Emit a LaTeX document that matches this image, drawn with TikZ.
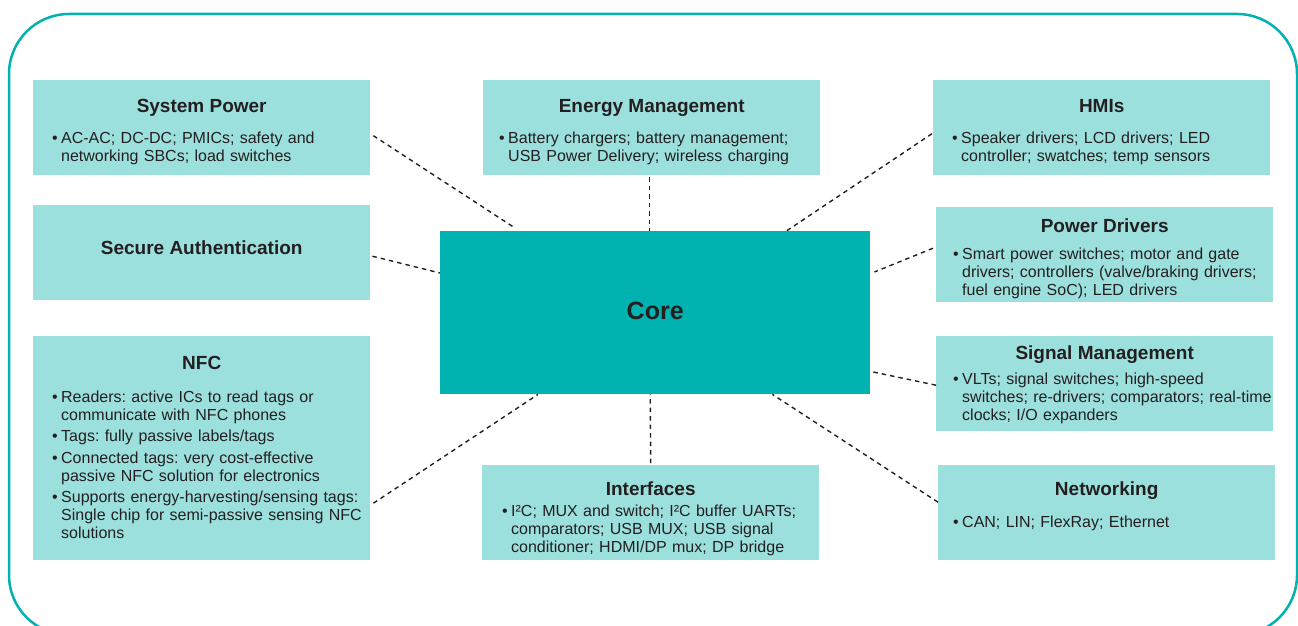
\documentclass[tikz,border=0pt]{standalone}
\usepackage{fontspec}
\setmainfont{Liberation Sans}
\usetikzlibrary{calc}
\definecolor{boxc}{RGB}{156,224,222}
\definecolor{corec}{RGB}{0,178,176}
\definecolor{txt}{RGB}{35,31,32}
\newcommand\bitem[1]{\hangindent=9pt\hangafter=1\noindent\makebox[9pt][l]{\textbullet}#1\par}
\tikzset{
  x=1pt, y=-1pt,
  panel/.style={fill=boxc, draw=none, inner sep=0pt, anchor=north west, minimum width=337pt, minimum height=95pt},
  ttl/.style={anchor=base, inner sep=0pt, font=\fontsize{19}{22}\selectfont\bfseries, text=txt},
  body/.style={anchor=base west, inner sep=0pt, text width=330pt, text=txt,
    font=\fontsize{16}{18}\selectfont\frenchspacing, execute at begin node=\raggedright},
  conn/.style={draw=txt, line width=1.4pt, dash pattern=on 4.5pt off 4pt},
}
\begin{document}
\begin{tikzpicture}
\useasboundingbox (0,0) rectangle (1298,626);
\draw[corec, line width=2.5pt, rounded corners=60pt] (9,14) rectangle (1297,635);

% panels
\node[panel] (sp) at (33,80) {};
\node[panel] (em) at (483,80) {};
\node[panel] (hmi) at (933,80) {};
\node[panel] (sa) at (33,205) {};
\node[panel] (pd) at (936,207) {};
\node[panel] (sm) at (936,336) {};
\node[panel, minimum height=224pt] (nfc) at (33,336) {};
\node[panel] (int) at (482,465) {};
\node[panel] (net) at (938,465) {};
\node[fill=corec, inner sep=0pt, anchor=north west, minimum width=430pt, minimum height=163pt] (core) at (440,231) {};
\node[anchor=base, inner sep=0pt, font=\fontsize{25}{28}\selectfont\bfseries, text=txt]
  (coretxt) at ([yshift=-7pt]core.center) {Core};

% titles
\node[ttl] (spt) at ([yshift=-32pt]sp.north) {System Power};
\node[ttl] (emt) at ([yshift=-32pt]em.north) {Energy Management};
\node[ttl] (hmit) at ([yshift=-32pt]hmi.north) {HMIs};
\node[ttl] (sat) at ([yshift=-49pt]sa.north) {Secure Authentication};
\node[ttl] (pdt) at ([yshift=-25pt]pd.north) {Power Drivers};
\node[ttl] (smt) at ([yshift=-23pt]sm.north) {Signal Management};
\node[ttl] (nfct) at ([yshift=-33pt]nfc.north) {NFC};
\node[ttl] (intt) at ([yshift=-30pt]int.north) {Interfaces};
\node[ttl] (nett) at ([yshift=-30pt]net.north) {Networking};

% bodies
\node[body] (spb) at ([xshift=19pt,yshift=-63pt]sp.north west)
  {\bitem{AC-AC; DC-DC; PMICs; safety and\newline networking SBCs; load switches}};
\node[body] (emb) at ([xshift=16pt,yshift=-63pt]em.north west)
  {\bitem{Battery chargers; battery management;\newline USB Power Delivery; wireless charging}};
\node[body] (hmib) at ([xshift=19pt,yshift=-63pt]hmi.north west)
  {\bitem{Speaker drivers; LCD drivers; LED\newline controller; swatches; temp sensors}};
\node[body] (pdb) at ([xshift=17pt,yshift=-52pt]pd.north west)
  {\bitem{Smart power switches; motor and gate\newline drivers; controllers (valve/braking drivers;\newline fuel engine SoC); LED drivers}};
\node[body] (smb) at ([xshift=17pt,yshift=-48pt]sm.north west)
  {\bitem{VLTs; signal switches; high-speed\newline switches; re-drivers; comparators; real-time\newline clocks; I/O expanders}};
\node[body] (nfcb) at ([xshift=19pt,yshift=-66pt]nfc.north west)
  {\bitem{Readers: active ICs to read tags or\newline communicate with NFC phones}\vspace{3.5pt}%
   \bitem{Tags: fully passive labels/tags}\vspace{3.5pt}%
   \bitem{Connected tags: very cost-effective\newline passive NFC solution for electronics}\vspace{3.5pt}%
   \bitem{Supports energy-harvesting/sensing tags:\newline Single chip for semi-passive sensing NFC\newline solutions}};
\node[body] (intb) at ([xshift=20pt,yshift=-51pt]int.north west)
  {\bitem{I²C; MUX and switch; I²C buffer UARTs;\newline comparators; USB MUX; USB signal\newline conditioner; HDMI/DP mux; DP bridge}};
\node[body] (netb) at ([xshift=15pt,yshift=-62pt]net.north west)
  {\bitem{CAN; LIN; FlexRay; Ethernet}};

% connectors
\draw[conn] ([xshift=3pt,yshift=-8pt]sp.east) -- ([xshift=75pt,yshift=3pt]core.north west);
\draw[conn] ([xshift=-2.5pt,yshift=-2pt]em.south) -- ([xshift=-6pt]core.north);
\draw[conn] ([xshift=-1pt,yshift=-6pt]hmi.west) -- ([xshift=-84pt]core.north east);
\draw[conn] ([xshift=2pt,yshift=-3.5pt]sa.east) -- ([yshift=-42pt]core.north west);
\draw[conn] ([xshift=-3pt,yshift=6.5pt]pd.west) -- ([xshift=4pt,yshift=-41pt]core.north east);
\draw[conn] ([yshift=-1.5pt]sm.west) -- ([yshift=23pt]core.south east);
\draw[conn] ([yshift=10.5pt]net.west) -- ([xshift=-98pt]core.south east);
\draw[conn] ([yshift=2pt]int.north) -- ([xshift=-5pt]core.south);
\draw[conn] ([xshift=3pt,yshift=-55pt]nfc.east) -- ([xshift=98pt]core.south west);
\end{tikzpicture}
\end{document}
